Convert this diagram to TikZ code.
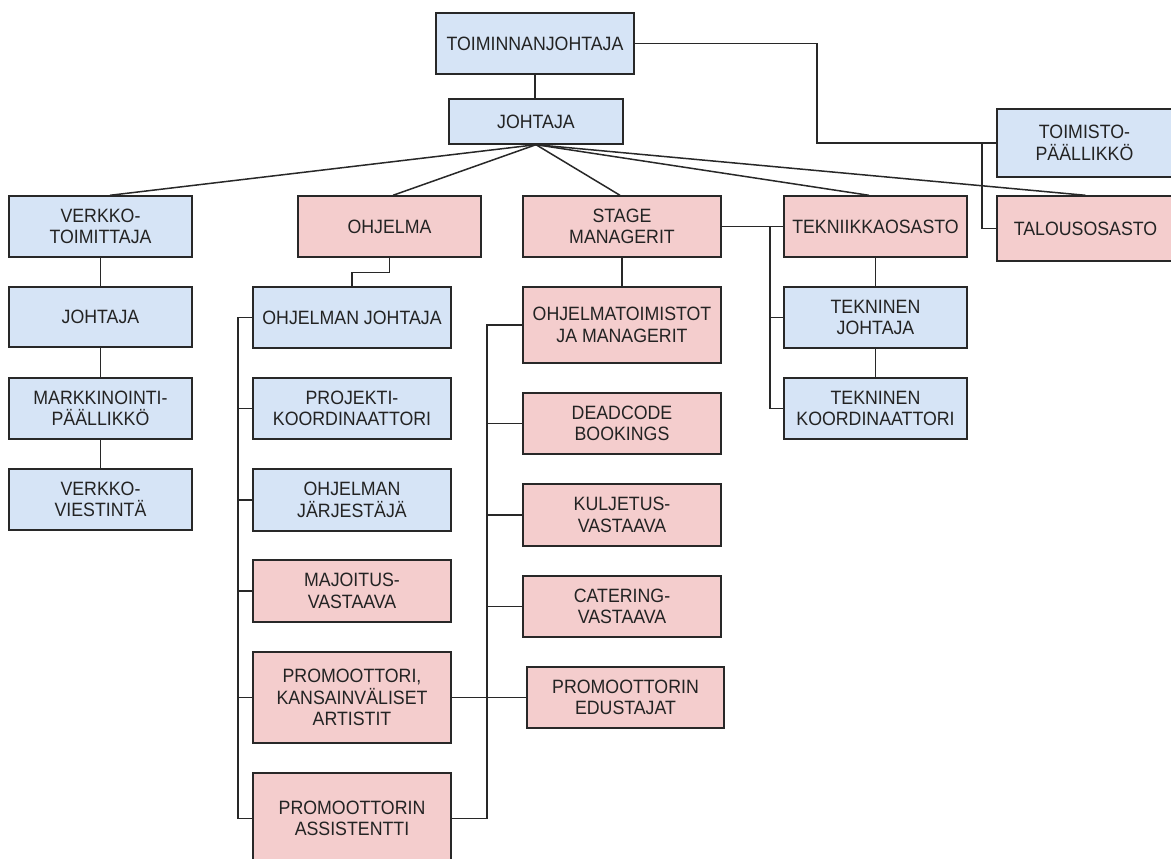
\documentclass[tikz,border=0pt]{standalone}
\usepackage{fontspec}
\setmainfont{Liberation Sans}[FakeStretch=0.92]
\usetikzlibrary{calc}
\definecolor{bfill}{RGB}{214,228,246}
\definecolor{pfill}{RGB}{244,205,205}
\definecolor{edgec}{RGB}{40,40,40}
\definecolor{txtc}{RGB}{35,35,35}
\newcommand\bx[7]{\node[#1, minimum width={#5-#3}, minimum height={#6-#4}] (#2) at ({(#3+#5)/2},{(#4+#6)/2}) {#7};}
\begin{document}
\begin{tikzpicture}[x=1pt,y=-1pt,
 box/.style={draw=edgec, line width=1.4pt, inner sep=0pt, align=center, text=txtc, font=\fontsize{19.3}{21.5}\selectfont},
 bbox/.style={box, fill=bfill},
 pbox/.style={box, fill=pfill},
 conn/.style={draw=edgec, line width=1.5pt}]
\clip (0,0) rectangle (1171,859);
\fill[white] (0,0) rectangle (1171,859);
% top
\bx{bbox}{tj}{436}{13}{634}{74}{TOIMINNANJOHTAJA}
\bx{bbox}{jo}{449}{99}{623}{144}{JOHTAJA}
\bx{bbox}{toim}{997}{109}{1172}{177}{TOIMISTO-\\PÄÄLLIKKÖ}
% row 1
\bx{bbox}{verk}{9}{196}{192}{257}{VERKKO-\\TOIMITTAJA}
\bx{pbox}{ohj}{298}{196}{481}{257}{OHJELMA}
\bx{pbox}{stage}{523}{196}{721}{257}{STAGE\\MANAGERIT}
\bx{pbox}{tek}{784}{196}{967}{257}{TEKNIIKKAOSASTO}
\bx{pbox}{tal}{997}{196}{1174}{261}{TALOUSOSASTO}
% left column
\bx{bbox}{vjoh}{9}{287}{192}{347}{JOHTAJA}
\bx{bbox}{mark}{9}{378}{192}{439}{MARKKINOINTI-\\PÄÄLLIKKÖ}
\bx{bbox}{vvie}{9}{469}{192}{530}{VERKKO-\\VIESTINTÄ}
% ohjelma column
\bx{bbox}{ojoh}{253}{287}{451}{348}{OHJELMAN JOHTAJA}
\bx{bbox}{proj}{253}{378}{451}{439}{PROJEKTI-\\KOORDINAATTORI}
\bx{bbox}{ojarj}{253}{469}{451}{531}{OHJELMAN\\JÄRJESTÄJÄ}
\bx{pbox}{maj}{253}{560}{451}{622}{MAJOITUS-\\VASTAAVA}
\bx{pbox}{pka}{253}{652}{451}{743}{PROMOOTTORI,\\KANSAINVÄLISET\\ARTISTIT}
\bx{pbox}{pa}{253}{773}{451}{864}{PROMOOTTORIN\\ASSISTENTTI}
% stage column
\bx{pbox}{omt}{523}{287}{721}{363}{OHJELMATOIMISTOT\\JA MANAGERIT}
\bx{pbox}{dead}{523}{393}{721}{454}{DEADCODE\\BOOKINGS}
\bx{pbox}{kulj}{523}{484}{721}{546}{KULJETUS-\\VASTAAVA}
\bx{pbox}{cat}{523}{576}{721}{637}{CATERING-\\VASTAAVA}
\bx{pbox}{pe}{527}{667}{724}{728}{PROMOOTTORIN\\EDUSTAJAT}
% tekniikka column
\bx{bbox}{tjoh}{784}{287}{967}{348}{TEKNINEN\\JOHTAJA}
\bx{bbox}{tkoord}{784}{378}{967}{439}{TEKNINEN\\KOORDINAATTORI}
% bus coordinates
\coordinate (k1) at (817,0);
\coordinate (k2) at (982,0);
\coordinate (lb) at (238,0);
\coordinate (rb) at (487,0);
\coordinate (tb) at (770,0);
% connectors
\draw[conn] (tj.south) -- (tj.south |- jo.north);
\draw[conn] (tj.east) -- (k1 |- tj.east) -- (k1 |- toim.west) -- (toim.west);
\draw[conn] (k2 |- toim.west) -- (k2 |- tal.west) -- (tal.west);
\draw[conn] (jo.south) -- ([xshift=9.5pt]verk.north);
\draw[conn] (jo.south) -- ([xshift=3.5pt]ohj.north);
\draw[conn] (jo.south) -- ([xshift=-2pt]stage.north);
\draw[conn] (jo.south) -- ([xshift=-6.5pt]tek.north);
\draw[conn] (jo.south) -- (tal.north);
\draw[conn] (verk.south) -- (vjoh.north);
\draw[conn] (vjoh.south) -- (mark.north);
\draw[conn] (mark.south) -- (vvie.north);
\draw[conn] (ohj.south) -- ++(0,15) -| (ojoh.north);
\draw[conn] (ojoh.west) -- (lb |- ojoh.west) -- (lb |- pa.west) -- (pa.west);
\draw[conn] (lb |- proj.west) -- (proj.west);
\draw[conn] (lb |- ojarj.west) -- (ojarj.west);
\draw[conn] (lb |- maj.west) -- (maj.west);
\draw[conn] (lb |- pka.west) -- (pka.west);
\draw[conn] (stage.south) -- (omt.north);
\draw[conn] (omt.west) -- (rb |- omt.west) -- (rb |- pa.east) -- (pa.east);
\draw[conn] (rb |- dead.west) -- (dead.west);
\draw[conn] (rb |- kulj.west) -- (kulj.west);
\draw[conn] (rb |- cat.west) -- (cat.west);
\draw[conn] (pka.east) -- (pe.west);
\draw[conn] (stage.east) -- (tek.west);
\draw[conn] (tb |- tek.west) -- (tb |- tkoord.west) -- (tkoord.west);
\draw[conn] (tb |- tjoh.west) -- (tjoh.west);
\draw[conn] (tek.south) -- (tjoh.north);
\draw[conn] (tjoh.south) -- (tkoord.north);
\end{tikzpicture}
\end{document}
